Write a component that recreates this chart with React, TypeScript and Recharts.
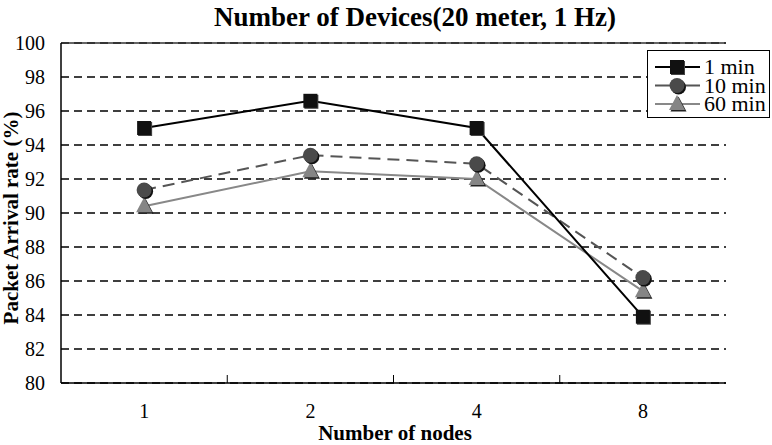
import { CartesianGrid, Line, LineChart, ReferenceLine, XAxis, YAxis } from 'recharts'

const nodes = ['1', '2', '4', '8']
const oneMin = [95.0, 96.6, 95.0, 83.9]
const tenMin = [91.35, 93.4, 92.9, 86.2]
const sixtyMin = [90.4, 92.45, 92.0, 85.4]
const yTicks = [80, 82, 84, 86, 88, 90, 92, 94, 96, 98, 100]

const data = nodes.map((n, i) => ({
  nodes: n,
  oneMin: oneMin[i],
  tenMin: tenMin[i],
  sixtyMin: sixtyMin[i],
}))

const FONT = 'Liberation Serif, serif'
const BAND = 665 / 4

function SquareDot({ cx, cy }: { cx?: number; cy?: number }) {
  if (cx === undefined || cy === undefined) return null
  return (
    <g>
      <rect x={cx - 6} y={cy - 6} width={14} height={14} fill="#444" />
      <rect x={cx - 7} y={cy - 7} width={14} height={14} fill="#111" />
    </g>
  )
}

function CircleDot({ cx, cy }: { cx?: number; cy?: number }) {
  if (cx === undefined || cy === undefined) return null
  return (
    <g>
      <circle cx={cx + 1.5} cy={cy + 1.5} r={7.5} fill="#111" />
      <circle cx={cx} cy={cy} r={7.5} fill="#4a4a4a" />
    </g>
  )
}

function TriDot({ cx, cy }: { cx?: number; cy?: number }) {
  if (cx === undefined || cy === undefined) return null
  const p = (dx: number, dy: number) =>
    `${cx + dx - 8},${cy + dy + 6} ${cx + dx + 8},${cy + dy + 6} ${cx + dx},${cy + dy - 9}`
  return (
    <g>
      <polygon points={p(1.5, 1.5)} fill="#222" />
      <polygon points={p(0, 0)} fill="#858585" />
    </g>
  )
}

function XTick(props: { x?: number; y?: number; payload?: { value: string }; index?: number }) {
  const { x = 0, y = 0, payload, index = 0 } = props
  const axisY = y - 8
  return (
    <g>
      {index > 0 && (
        <line x1={x - BAND / 2} x2={x - BAND / 2} y1={axisY} y2={axisY - 8} stroke="#000" strokeWidth={1} />
      )}
      <text x={x} y={y + 27} textAnchor="middle" fontFamily={FONT} fontSize={20} fill="#000">
        {payload?.value}
      </text>
    </g>
  )
}

const legendItems = [
  { label: '1 min', color: '#000', Dot: SquareDot },
  { label: '10 min', color: '#555', Dot: CircleDot },
  { label: '60 min', color: '#888', Dot: TriDot },
]

function LegendBox() {
  return (
    <svg width={124} height={69} style={{ display: 'block' }}>
      <rect x={0.5} y={0.5} width={122} height={67} fill="#fff" stroke="#000" strokeWidth={1} />
      {legendItems.map((it, i) => {
        const cy = 17 + i * 18.5
        return (
          <g key={it.label}>
            <line x1={8} x2={53} y1={cy} y2={cy} stroke={it.color} strokeWidth={2} />
            <it.Dot cx={30} cy={cy} />
            <text x={57} y={cy + 7} fontFamily={FONT} fontSize={22} fill="#000">
              {it.label}
            </text>
          </g>
        )
      })}
    </svg>
  )
}

export default function App() {
  return (
    <div style={{ position: 'absolute', left: 0, top: 0, width: 772, height: 445, background: '#fff' }}>
      <LineChart
        width={772}
        height={445}
        data={data}
        margin={{ top: 43, right: 46, bottom: 32, left: 0 }}
      >
        <text x={415} y={26} textAnchor="middle" fontFamily={FONT} fontSize={27} fontWeight="bold" fill="#000">
          Number of Devices(20 meter, 1 Hz)
        </text>
        <CartesianGrid vertical={false} stroke="#000" strokeWidth={1.4} strokeDasharray="8 5" />
        <XAxis
          dataKey="nodes"
          padding={{ left: BAND / 2, right: BAND / 2 }}
          tickLine={false}
          axisLine={{ stroke: '#000', strokeWidth: 1.5 }}
          tick={<XTick />}
          interval={0}
          label={{
            content: () => (
              <text x={395} y={440} textAnchor="middle" fontFamily={FONT} fontSize={21} fontWeight="bold" fill="#000">
                Number of nodes
              </text>
            ),
          }}
        />
        <YAxis
          width={61}
          domain={[80, 100]}
          ticks={yTicks}
          interval={0}
          tickLine={false}
          tickMargin={10}
          axisLine={{ stroke: '#000', strokeWidth: 1.5 }}
          tick={{ fontFamily: FONT, fontSize: 20, fill: '#000' }}
          label={{
            content: () => (
              <text
                x={18}
                y={218}
                transform="rotate(-90 18 218)"
                textAnchor="middle"
                fontFamily={FONT}
                fontSize={21}
                fontWeight="bold"
                fill="#000"
              >
                Packet Arrival rate (%)
              </text>
            ),
          }}
        />
        <YAxis
          yAxisId="right"
          orientation="right"
          width={0}
          tick={false}
          tickLine={false}
          axisLine={{ stroke: '#333', strokeWidth: 1.5 }}
        />
        <ReferenceLine y={100} stroke="#333" strokeWidth={1.5} />
        <Line
          dataKey="sixtyMin"
          stroke="#888"
          strokeWidth={2}
          dot={<TriDot />}
          activeDot={false}
          isAnimationActive={false}
        />
        <Line
          dataKey="tenMin"
          stroke="#555"
          strokeWidth={2}
          strokeDasharray="12 7"
          dot={<CircleDot />}
          activeDot={false}
          isAnimationActive={false}
        />
        <Line
          dataKey="oneMin"
          stroke="#000"
          strokeWidth={2}
          dot={<SquareDot />}
          activeDot={false}
          isAnimationActive={false}
        />
      </LineChart>
      <div style={{ position: 'absolute', left: 647, top: 50 }}>
        <LegendBox />
      </div>
    </div>
  )
}
